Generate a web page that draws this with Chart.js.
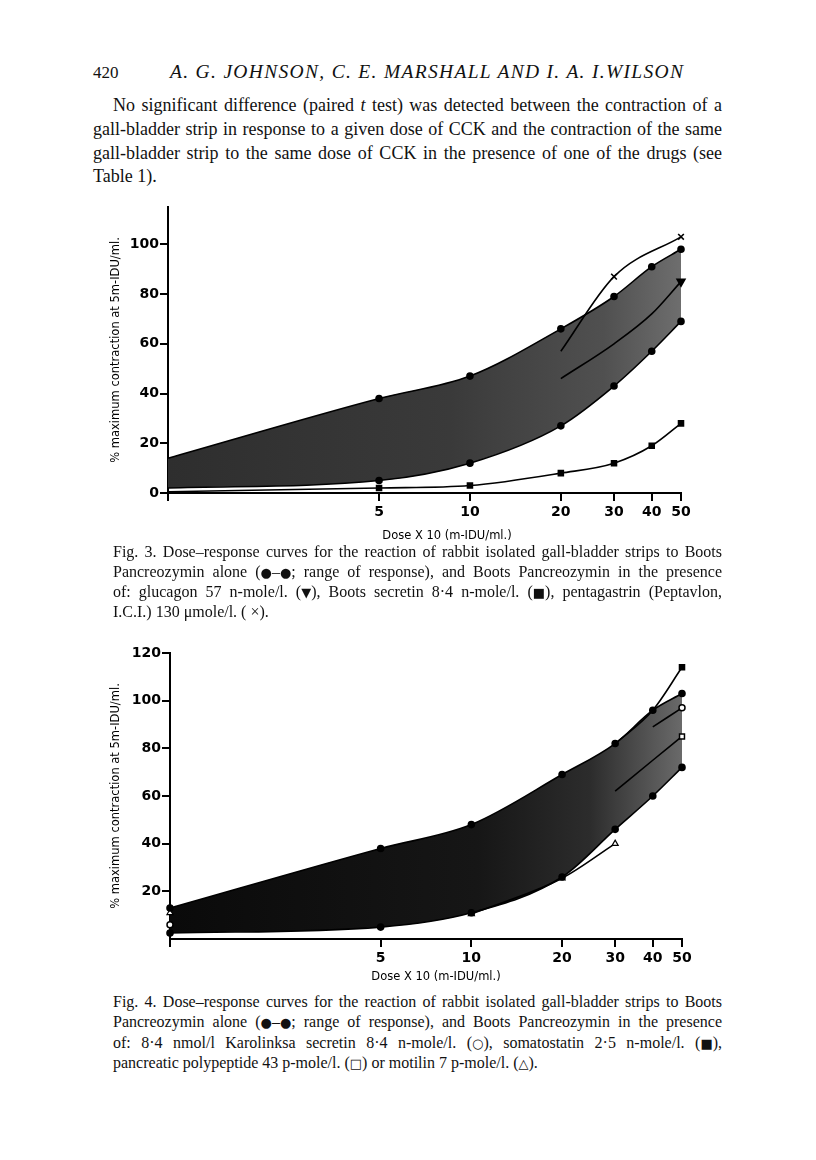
<!DOCTYPE html>
<html>
<head>
<meta charset="utf-8">
<script src="https://cdn.jsdelivr.net/npm/chart.js@4.4.1/dist/chart.umd.min.js"></script>
<style>
  html, body { margin: 0; padding: 0; background: #fff; }
  body { width: 816px; height: 1160px; position: relative; overflow: hidden; color: #111; }
  .txt { position: absolute; white-space: nowrap; font-family: "Liberation Serif", "Times New Roman", serif; }
  .para { font-size: 18px; line-height: 24px; }
  .cap { font-size: 16px; line-height: 20px; }
  .sym { font-family: "DejaVu Sans", sans-serif; font-size: 13px; }
  .chartbox { position: absolute; }
  .xtitle { position: absolute; font-family: "DejaVu Sans", sans-serif; font-size: 11.5px; white-space: nowrap; transform: translateX(-50%); color: #000; }
</style>
</head>
<body>

<div class="txt" style="left:93px; top:61px; font-size:17px; line-height:24px;">420</div>
<div class="txt fitletters" data-w="513" style="left:170px; top:60px; font-size:19.5px; line-height:24px; font-style:italic;"><span>A. G. JOHNSON, C. E. MARSHALL AND I. A. I.WILSON</span></div>

<div class="txt para fit" data-w="609" style="left:113px; top:93px;"><span>No significant difference (paired <i>t</i> test) was detected between the contraction of a</span></div>
<div class="txt para fit" data-w="629" style="left:93px; top:117px;"><span>gall-bladder strip in response to a given dose of CCK and the contraction of the same</span></div>
<div class="txt para fit" data-w="629" style="left:93px; top:141px;"><span>gall-bladder strip to the same dose of CCK in the presence of one of the drugs (see</span></div>
<div class="txt para" style="left:93px; top:164px;"><span>Table 1).</span></div>

<div class="chartbox" style="left:90px; top:195px; width:620px; height:338px;"><canvas id="fig3"></canvas></div>
<div class="xtitle" style="left:447px; top:528px;">Dose X 10 (m-IDU/ml.)</div>

<div class="txt cap fit" data-w="609" style="left:113px; top:542px;"><span>Fig. 3. Dose–response curves for the reaction of rabbit isolated gall-bladder strips to Boots</span></div>
<div class="txt cap fit" data-w="609" style="left:113px; top:562px;"><span>Pancreozymin alone (<span class="sym">●</span>–<span class="sym">●</span>; range of response), and Boots Pancreozymin in the presence</span></div>
<div class="txt cap fit" data-w="609" style="left:113px; top:582px;"><span>of: glucagon 57 n-mole/l. (<span class="sym">▼</span>), Boots secretin 8·4 n-mole/l. (<span class="sym">■</span>), pentagastrin (Peptavlon,</span></div>
<div class="txt cap" style="left:113px; top:602px;"><span>I.C.I.) 130 μmole/l. ( ×).</span></div>

<div class="chartbox" style="left:90px; top:640px; width:620px; height:339px;"><canvas id="fig4"></canvas></div>
<div class="xtitle" style="left:436px; top:969px;">Dose X 10 (m-IDU/ml.)</div>

<div class="txt cap fit" data-w="609" style="left:113px; top:992px;"><span>Fig. 4. Dose–response curves for the reaction of rabbit isolated gall-bladder strips to Boots</span></div>
<div class="txt cap fit" data-w="609" style="left:113px; top:1012px;"><span>Pancreozymin alone (<span class="sym">●</span>–<span class="sym">●</span>; range of response), and Boots Pancreozymin in the presence</span></div>
<div class="txt cap fit" data-w="609" style="left:113px; top:1033px;"><span>of: 8·4 nmol/l Karolinksa secretin 8·4 n-mole/l. (<span class="sym">○</span>), somatostatin 2·5 n-mole/l. (<span class="sym">■</span>),</span></div>
<div class="txt cap" style="left:113px; top:1053px;"><span>pancreatic polypeptide 43 p-mole/l. (<span class="sym">□</span>) or motilin 7 p-mole/l. (<span class="sym">△</span>).</span></div>

<script>
// doses (x 10 m-IDU/ml), log axis
const doses = [1, 5, 10, 20, 30, 40, 50];
const xTickValues = [1, 5, 10, 20, 30, 40, 50];
const fig3YTicks = [0, 20, 40, 60, 80, 100];
const fig4YTicks = [20, 40, 60, 80, 100, 120];

// Fig. 3 values (% maximum contraction)
const fig3RangeUpper = [14, 38, 47, 66, 79, 91, 98];
const fig3RangeLower = [2, 5, 12, 27, 43, 57, 69];
const fig3Glucagon = [null, null, null, 46, 60, 72, 85];
const fig3Secretin = [0.5, 2, 3, 8, 12, 19, 28];
const fig3Pentagastrin = [null, null, null, 57, 87, null, 103];

// Fig. 4 values
const fig4RangeUpper = [13, 38, 48, 69, 82, 96, 103];
const fig4RangeLower = [2.5, 5, 11, 26, 46, 60, 72];
const fig4Karolinska = [6, null, null, null, null, 89, 97];
const fig4Somatostatin = [null, null, null, null, 82, 96, 114];
const fig4Polypeptide = [null, null, null, null, 62, 75, 85];
const fig4Motilin = [11, null, 10.5, 25.5, 40, null, null];

// stretch text lines to the printed measure
document.querySelectorAll('.fit').forEach(el => {
    const span = el.firstElementChild;
    const natural = span.getBoundingClientRect().width;
    const spaces = (span.textContent.match(/ /g) || []).length;
    if (spaces) el.style.wordSpacing = ((+el.dataset.w - natural) / spaces) + 'px';
});
document.querySelectorAll('.fitletters').forEach(el => {
    const span = el.firstElementChild;
    const natural = span.getBoundingClientRect().width;
    const n = span.textContent.length - 1;
    el.style.letterSpacing = ((+el.dataset.w - natural) / n) + 'px';
});

const tickFont = { family: 'DejaVu Sans', size: 14, weight: 'bold' };
const titleFont = { family: 'DejaVu Sans', size: 11.5 };

function pts(values) {
    return values.map((v, i) => ({ x: doses[i], y: v }));
}

function bandFill(stops) {
    return function (ctx) {
        const area = ctx.chart.chartArea;
        if (!area) return stops[0][1];
        const g = ctx.chart.ctx.createLinearGradient(area.left, 0, area.right, 0);
        stops.forEach(s => g.addColorStop(s[0], s[1]));
        return g;
    };
}

// only show a marker at the listed indexes
function onlyAt(idx, r) {
    return ctx => idx.includes(ctx.dataIndex) ? r : 0;
}

function line(values, extra) {
    return Object.assign({
        data: pts(values),
        borderColor: '#000',
        borderWidth: 1.6,
        backgroundColor: '#000',
        pointBackgroundColor: '#000',
        pointBorderColor: '#000',
        pointRadius: 3,
        cubicInterpolationMode: 'monotone',
        fill: false,
        spanGaps: false,
        clip: false
    }, extra);
}

function scales(yMax, yTicks, yWidth) {
    return {
        x: {
            type: 'logarithmic',
            min: 1,
            max: 50,
            afterBuildTicks: s => { s.ticks = xTickValues.map(v => ({ value: v })); },
            afterFit: s => { s.height = 40; },
            ticks: {
                autoSkip: false,
                maxRotation: 0,
                padding: 3,
                color: '#000',
                font: tickFont,
                callback: v => v === 1 ? '' : String(v)
            },
            grid: { drawOnChartArea: false, drawTicks: true, tickLength: 8, color: '#000', lineWidth: 2 },
            border: { display: true, color: '#000', width: 2 }
        },
        y: {
            type: 'linear',
            min: 0,
            max: yMax,
            afterBuildTicks: s => { s.ticks = yTicks.map(v => ({ value: v })); },
            afterFit: s => { s.width = yWidth; },
            ticks: { padding: 1, color: '#000', font: tickFont },
            grid: { drawOnChartArea: false, drawTicks: true, tickLength: 8, color: '#000', lineWidth: 2 },
            border: { display: true, color: '#000', width: 2 },
            title: {
                display: true,
                text: '% maximum contraction at 5m-IDU/ml.',
                color: '#000',
                font: titleFont,
                padding: 0
            }
        }
    };
}

const commonOptions = {
    responsive: true,
    maintainAspectRatio: false,
    animation: false,
    events: [],
    plugins: {
        legend: { display: false },
        tooltip: { enabled: false },
        filler: { drawTime: 'beforeDatasetsDraw' }
    }
};

new Chart(document.getElementById('fig3'), {
    type: 'line',
    data: {
        datasets: [
            line(fig3RangeUpper, {
                fill: '+1',
                backgroundColor: bandFill([[0, '#2e2e2e'], [0.55, '#3a3a3a'], [0.85, '#505050'], [1, '#6e6e6e']]),
                pointRadius: onlyAt([1, 2, 3, 4, 5, 6], 3)
            }),
            line(fig3RangeLower, { pointRadius: onlyAt([1, 2, 3, 4, 5, 6], 3) }),
            line(fig3Glucagon, {
                pointStyle: 'triangle',
                pointRotation: 180,
                pointRadius: onlyAt([6], 4.5)
            }),
            line(fig3Secretin, { pointStyle: 'rect', pointRadius: onlyAt([1, 2, 3, 4, 5, 6], 3.5) }),
            line(fig3Pentagastrin, {
                spanGaps: true,
                pointStyle: 'crossRot',
                pointBorderWidth: 1.6,
                pointRadius: onlyAt([4, 6], 4)
            })
        ]
    },
    options: Object.assign({}, commonOptions, {
        layout: { padding: { left: 19, right: 29, top: 12, bottom: 0 } },
        scales: scales(115, fig3YTicks, 59)
    })
});

new Chart(document.getElementById('fig4'), {
    type: 'line',
    data: {
        datasets: [
            line(fig4RangeUpper, {
                fill: '+1',
                backgroundColor: bandFill([[0, '#0a0a0a'], [0.6, '#161616'], [0.82, '#2c2c2c'], [1, '#6a6a6a']])
            }),
            line(fig4RangeLower, {}),
            line(fig4Karolinska, {
                pointBackgroundColor: '#fff',
                pointBorderWidth: 1.5,
                pointRadius: onlyAt([0, 6], 3)
            }),
            line(fig4Somatostatin, { pointStyle: 'rect', pointRadius: onlyAt([6], 3.5) }),
            line(fig4Polypeptide, {
                pointStyle: 'rect',
                pointBackgroundColor: '#fff',
                pointBorderWidth: 1.5,
                pointRadius: onlyAt([6], 3.5)
            }),
            line(fig4Motilin, {
                pointStyle: 'triangle',
                pointBackgroundColor: '#fff',
                pointBorderWidth: 1.2,
                pointRadius: onlyAt([0, 2, 3, 4], 3.5)
            })
        ]
    },
    options: Object.assign({}, commonOptions, {
        layout: { padding: { left: 19, right: 28, top: 13, bottom: 0 } },
        scales: scales(120, fig4YTicks, 61)
    })
});
</script>
</body>
</html>
